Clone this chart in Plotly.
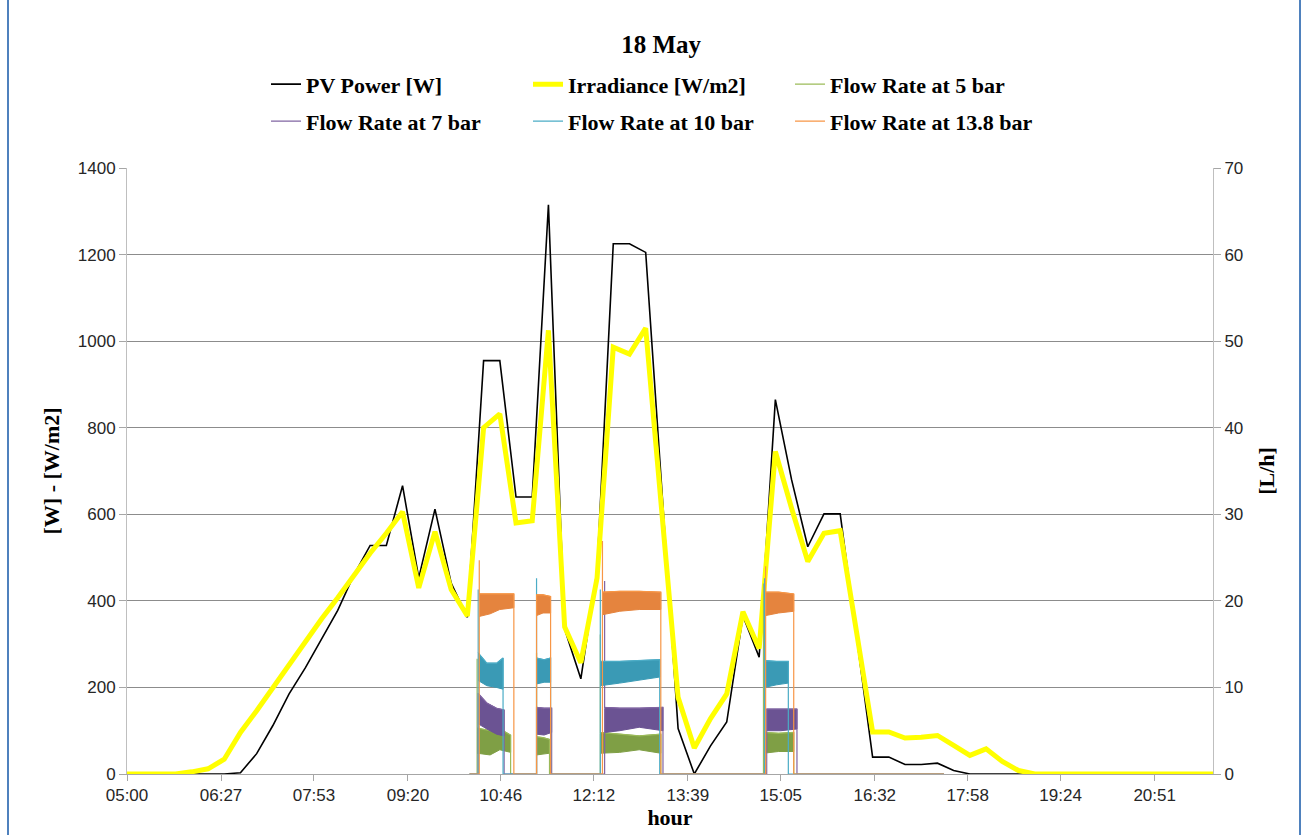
import plotly.graph_objects as go

# ---- PV and irradiance, 15-minute samples ----
TIMES = [
    "05:00", "05:15", "05:30", "05:45", "06:00", "06:15", "06:30", "06:45",
    "07:00", "07:15", "07:30", "07:45", "08:00", "08:15", "08:30", "08:45",
    "09:00", "09:15", "09:30", "09:45", "10:00", "10:15", "10:30", "10:45",
    "11:00", "11:15", "11:30", "11:45", "12:00", "12:15", "12:30", "12:45",
    "13:00", "13:15", "13:30", "13:45", "14:00", "14:15", "14:30", "14:45",
    "15:00", "15:15", "15:30", "15:45", "16:00", "16:15", "16:30", "16:45",
    "17:00", "17:15", "17:30", "17:45", "18:00", "18:15", "18:30", "18:45",
    "19:00", "19:15", "19:30", "19:45", "20:00", "20:15", "20:30", "20:45",
    "21:00", "21:15", "21:30", "21:45",
]
PV_POWER = [
    0, 0, 0, 0, 0, 0, 0, 3,
    47, 112, 185, 245, 310, 378, 460, 528,
    528, 666, 453, 612, 441, 362, 955, 955,
    640, 640, 1315, 335, 220, 470, 1225, 1225,
    1205, 655, 105, 0, 65, 120, 365, 270,
    865, 680, 525, 601, 601, 320, 39, 39,
    22, 22, 25, 8, 0, 0, 0, 0,
    0, 0, 0, 0, 0, 0, 0, 0,
    0, 0, 0, 0,
]
IRRADIANCE = [
    0, 0, 0, 0, 5, 12, 34, 96,
    146, 200, 250, 305, 358, 407, 460, 510,
    556, 606, 430, 560, 426, 365, 800, 832,
    580, 585, 1025, 340, 257, 453, 986, 970,
    1030, 600, 177, 60, 128, 185, 375, 290,
    745, 614, 491, 556, 562, 330, 97, 97,
    83, 85, 89, 66, 43, 58, 29, 8,
    0, 0, 0, 0, 0, 0, 0, 0,
    0, 0, 0, 0,
]

X_TICK_LABELS = ["05:00", "06:27", "07:53", "09:20", "10:46", "12:12",
                 "13:39", "15:05", "16:32", "17:58", "19:24", "20:51"]
X_END = "21:45"

# ---- flow rate records [L/h]: pumping periods as noise envelopes ----
FLOW_RECORD_START = "10:17"
FLOW_RECORD_END = "17:36"

FLOW_5_TIMES = [["10:24", "10:36", "10:45", "10:55"], ["11:19", "11:25", "11:31"],
                ["12:18", "12:36", "12:54", "13:14"], ["14:49", "15:03", "15:17"]]
FLOW_5_HIGH = [[5.3, 5.0, 5.2, 4.5], [4.3, 4.2, 4.0], [4.8, 4.6, 4.4, 4.6], [4.8, 4.7, 4.8]]
FLOW_5_LOW = [[2.4, 2.2, 2.8, 2.5], [2.2, 2.3, 2.4], [2.4, 2.5, 2.8, 2.4], [2.4, 2.6, 2.6]]
FLOW_5_SPIKE = [13.3, 14.0, 16.1, 22.0]

FLOW_7_TIMES = [["10:25", "10:33", "10:42", "10:49"], ["11:19", "11:26", "11:33"],
                ["12:22", "12:36", "12:54", "13:16"], ["14:52", "15:05", "15:20"]]
FLOW_7_HIGH = [[9.3, 8.2, 7.6, 7.4], [7.7, 7.6, 7.6], [7.7, 7.6, 7.6, 7.7], [7.5, 7.5, 7.5]]
FLOW_7_LOW = [[5.8, 5.2, 4.6, 4.4], [4.6, 4.5, 4.8], [4.8, 5.0, 5.4, 5.0], [5.0, 5.0, 5.2]]
FLOW_7_SPIKE = [None, None, 22.3, None]

FLOW_10_TIMES = [["10:25", "10:33", "10:42", "10:48"], ["11:19", "11:26", "11:32"],
                 ["12:18", "12:36", "12:54", "13:13"], ["14:50", "15:01", "15:12"]]
FLOW_10_HIGH = [[14.0, 12.8, 12.8, 13.4], [13.4, 13.2, 13.4], [13.0, 13.0, 13.1, 13.2], [13.1, 13.0, 13.0]]
FLOW_10_LOW = [[10.8, 10.2, 10.0, 9.8], [10.4, 10.6, 10.6], [10.2, 10.5, 10.8, 11.2], [10.0, 10.3, 10.5]]
FLOW_10_SPIKE = [21.3, 22.6, 21.3, 22.6]

FLOW_13_TIMES = [["10:26", "10:36", "10:45", "10:58"], ["11:19", "11:25", "11:32"],
                 ["12:20", "12:36", "12:54", "13:14"], ["14:51", "15:03", "15:17"]]
FLOW_13_HIGH = [[20.8, 20.8, 20.8, 20.8], [20.7, 20.7, 20.5], [21.0, 21.1, 21.1, 21.0], [21.0, 21.0, 20.8]]
FLOW_13_LOW = [[18.2, 18.5, 19.0, 19.2], [18.3, 18.6, 18.6], [18.4, 18.8, 19.0, 19.0], [18.3, 18.6, 18.8]]
FLOW_13_SPIKE = [24.7, None, 26.9, 24.0]


def hours(t):
    h, m = t.split(":")
    return int(h) + int(m) / 60.0


TITLE_FONT = dict(family="Liberation Serif", size=22, color="black", weight="bold")
TICK_FONT = dict(family="Liberation Sans", size=17, color="#262626")

fig = go.Figure()

t_hours = [hours(t) for t in TIMES]
fig.add_trace(go.Scatter(
    x=t_hours, y=PV_POWER, mode="lines", name="PV Power [W]",
    line=dict(color="black", width=1.6), legend="legend",
))
fig.add_trace(go.Scatter(
    x=t_hours, y=IRRADIANCE, mode="lines", name="Irradiance [W/m2]",
    line=dict(color="#FFFF00", width=5), legend="legend",
))

flow_series = [
    ("Flow Rate at 5 bar", FLOW_5_TIMES, FLOW_5_HIGH, FLOW_5_LOW, FLOW_5_SPIKE,
     "#9BBB59", "#7F9F45", "legend"),
    ("Flow Rate at 7 bar", FLOW_7_TIMES, FLOW_7_HIGH, FLOW_7_LOW, FLOW_7_SPIKE,
     "#8064A2", "#6B5393", "legend2"),
    ("Flow Rate at 10 bar", FLOW_10_TIMES, FLOW_10_HIGH, FLOW_10_LOW, FLOW_10_SPIKE,
     "#4BACC6", "#3A9AB5", "legend2"),
    ("Flow Rate at 13.8 bar", FLOW_13_TIMES, FLOW_13_HIGH, FLOW_13_LOW, FLOW_13_SPIKE,
     "#F79646", "#E5843E", "legend2"),
]

for name, times, highs, lows, spikes, line_col, band_col, leg in flow_series:
    # dense pulsation band of each pumping period
    for tb, hb, lb in zip(times, highs, lows):
        xb = [hours(t) for t in tb]
        fig.add_trace(go.Scatter(
            x=xb + xb[::-1], y=hb + lb[::-1], mode="lines", fill="toself",
            fillcolor=band_col, line=dict(color=band_col, width=1),
            yaxis="y2", showlegend=False, hoverinfo="skip",
        ))
    # trace outline: zero between periods, start-up spikes, shut-down drops
    xs = [hours(FLOW_RECORD_START)]
    ys = [0]
    for tb, hb, sp in zip(times, highs, spikes):
        xb = [hours(t) for t in tb]
        xs += [xb[0], xb[0]]
        ys += [0, sp if sp is not None else hb[0]]
        xs += xb
        ys += hb
        xs += [xb[-1]]
        ys += [0]
    xs.append(hours(FLOW_RECORD_END))
    ys.append(0)
    fig.add_trace(go.Scatter(
        x=xs, y=ys, mode="lines", name=name, yaxis="y2",
        line=dict(color=line_col, width=1.2), legend=leg,
    ))

tick_vals = [hours(t) for t in X_TICK_LABELS]

fig.update_layout(
    width=1308, height=835,
    margin=dict(l=127, r=95, t=168, b=58),
    paper_bgcolor="white", plot_bgcolor="white",
    title=dict(text="18 May", x=0.5055, xanchor="center", y=0.947, yanchor="middle",
               yref="container", font=dict(family="Liberation Serif", size=25,
                                           color="black", weight="bold")),
    xaxis=dict(
        range=[hours(TIMES[0]), hours(X_END)], tickvals=tick_vals, ticktext=X_TICK_LABELS,
        showgrid=False, zeroline=False, showline=True, linecolor="#A6A6A6", linewidth=1,
        ticks="outside", ticklen=6, tickcolor="#A6A6A6", tickfont=TICK_FONT,
        title=dict(text="hour", font=TITLE_FONT, standoff=2),
    ),
    yaxis=dict(
        range=[0, 1400], dtick=200, showgrid=True, gridcolor="#8C8C8C", gridwidth=1,
        zeroline=False, showline=True, linecolor="#BFBFBF", linewidth=1,
        ticks="outside", ticklen=7, tickcolor="#A6A6A6", tickfont=TICK_FONT,
        title=dict(text="[W] - [W/m2]", font=TITLE_FONT, standoff=12),
    ),
    yaxis2=dict(
        range=[0, 70], dtick=10, overlaying="y", side="right", showgrid=False,
        zeroline=False, showline=True, linecolor="#BFBFBF", linewidth=1,
        ticks="outside", ticklen=7, tickcolor="#A6A6A6", tickfont=TICK_FONT,
        title=dict(text="[L/h]", font=TITLE_FONT, standoff=16),
    ),
    legend=dict(
        orientation="h", x=0.128, xanchor="left", y=1.138, yanchor="middle",
        entrywidth=217, entrywidthmode="pixels", font=TITLE_FONT,
        bgcolor="rgba(0,0,0,0)", traceorder="normal",
    ),
    legend2=dict(
        orientation="h", x=0.128, xanchor="left", y=1.077, yanchor="middle",
        entrywidth=217, entrywidthmode="pixels", font=TITLE_FONT,
        bgcolor="rgba(0,0,0,0)", traceorder="normal",
    ),
    showlegend=True,
    shapes=[
        dict(type="rect", xref="paper", yref="paper",
             x0=(8 - 127) / 1086, x1=(1300 - 127) / 1086,
             y0=(777 - 845) / 609, y1=(777 + 10) / 609,
             line=dict(color="#4F81BD", width=2), layer="below"),
    ],
)

fig.write_html("out.html")
